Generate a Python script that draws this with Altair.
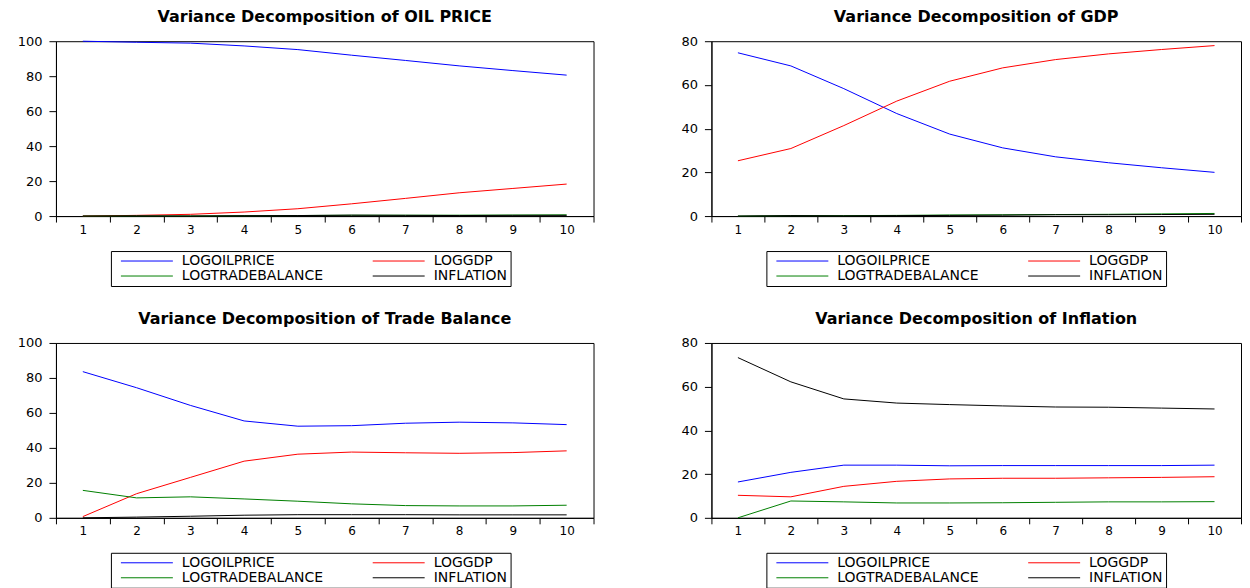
import altair as alt
import pandas as pd

# ---------------- data ----------------
horizons = [1, 2, 3, 4, 5, 6, 7, 8, 9, 10]
series_names = ["LOGOILPRICE", "LOGGDP", "LOGTRADEBALANCE", "INFLATION"]
series_colors = ["#0000FF", "#FF0000", "#008000", "#000000"]

# Variance Decomposition of OIL PRICE
oil_logoilprice = [100.0, 99.4, 98.9, 97.3, 95.2, 92.0, 89.0, 85.9, 83.2, 80.6]
oil_loggdp = [0.0, 0.4, 1.0, 2.3, 4.2, 7.0, 10.1, 13.3, 15.8, 18.3]
oil_logtradebalance = [0.0, 0.1, 0.1, 0.2, 0.3, 0.5, 0.5, 0.5, 0.6, 0.7]
oil_inflation = [0.0, 0.1, 0.0, 0.2, 0.3, 0.5, 0.4, 0.3, 0.4, 0.4]

# Variance Decomposition of GDP
gdp_logoilprice = [74.7, 68.7, 58.3, 46.9, 37.5, 31.2, 27.1, 24.4, 22.1, 20.0]
gdp_loggdp = [25.3, 30.9, 41.4, 52.6, 61.7, 67.8, 71.6, 74.2, 76.2, 78.0]
gdp_logtradebalance = [0.0, 0.2, 0.2, 0.3, 0.5, 0.6, 0.7, 0.8, 1.0, 1.2]
gdp_inflation = [0.0, 0.2, 0.1, 0.2, 0.3, 0.4, 0.6, 0.6, 0.7, 0.8]

# Variance Decomposition of Trade Balance
tb_logoilprice = [83.6, 74.4, 64.3, 55.4, 52.4, 52.7, 54.1, 54.7, 54.3, 53.3]
tb_loggdp = [0.7, 13.8, 23.1, 32.4, 36.4, 37.6, 37.2, 36.9, 37.3, 38.3]
tb_logtradebalance = [15.7, 11.4, 12.0, 10.8, 9.5, 8.0, 7.0, 6.8, 6.8, 7.2]
tb_inflation = [0.0, 0.4, 0.9, 1.5, 1.8, 1.8, 1.8, 1.7, 1.7, 1.7]

# Variance Decomposition of Inflation
inf_logoilprice = [16.4, 20.8, 24.1, 24.1, 23.8, 23.9, 23.9, 23.9, 23.9, 24.1]
inf_loggdp = [10.3, 9.6, 14.4, 16.7, 17.8, 18.1, 18.1, 18.3, 18.5, 18.8]
inf_logtradebalance = [0.0, 7.7, 7.3, 6.8, 6.8, 6.9, 7.1, 7.3, 7.3, 7.4]
inf_inflation = [73.3, 62.2, 54.4, 52.5, 51.8, 51.2, 50.7, 50.6, 50.2, 49.8]

FONT = "DejaVu Sans"


def make_df(a, b, c, d):
    rows = []
    for name, vals in zip(series_names, [a, b, c, d]):
        for h, v in zip(horizons, vals):
            rows.append({"h": h, "series": name, "value": v})
    return pd.DataFrame(rows)


def panel(title, df, ymax, width):
    return (
        alt.Chart(
            df,
            title=alt.TitleParams(
                title, font=FONT, fontSize=16, fontWeight="bold",
                color="black", anchor="middle", offset=10,
            ),
        )
        .mark_line(strokeWidth=1)
        .encode(
            x=alt.X(
                "h:O",
                bandPosition=0.5,
                scale=alt.Scale(type="band", paddingInner=0, paddingOuter=0),
                axis=alt.Axis(
                    title=None, labelAngle=0, tickBand="extent", tickSize=6,
                    labelPadding=2, labelFont=FONT, labelFontSize=12,
                    labelColor="black", domainColor="black", tickColor="black",
                    grid=False,
                ),
            ),
            y=alt.Y(
                "value:Q",
                scale=alt.Scale(domain=[0, ymax], nice=False, zero=True),
                axis=alt.Axis(
                    title=None, values=list(range(0, ymax + 1, 20)), tickSize=7,
                    labelPadding=7, labelFont=FONT, labelFontSize=13,
                    labelColor="black", domainColor="black", tickColor="black",
                    grid=False,
                ),
            ),
            color=alt.Color(
                "series:N",
                sort=series_names,
                scale=alt.Scale(domain=series_names, range=series_colors),
                legend=alt.Legend(
                    title=None, orient="none", legendX=55, legendY=210,
                    direction="horizontal", columns=2,
                    symbolType="M0,0H13", symbolSize=64,
                    symbolStrokeWidth=1, labelOffset=54, labelFont=FONT,
                    labelFontSize=14, labelColor="black", strokeColor="black",
                    padding=3, columnPadding=42, rowPadding=1,
                ),
            ),
            order=alt.Order("h:O"),
        )
        .properties(width=width, height=175)
    )


p_oil = panel("Variance Decomposition of OIL PRICE",
              make_df(oil_logoilprice, oil_loggdp, oil_logtradebalance, oil_inflation), 100, 538)
p_gdp = panel("Variance Decomposition of GDP",
              make_df(gdp_logoilprice, gdp_loggdp, gdp_logtradebalance, gdp_inflation), 80, 530)
p_tb = panel("Variance Decomposition of Trade Balance",
             make_df(tb_logoilprice, tb_loggdp, tb_logtradebalance, tb_inflation), 100, 538)
p_inf = panel("Variance Decomposition of Inflation",
              make_df(inf_logoilprice, inf_loggdp, inf_logtradebalance, inf_inflation), 80, 530)

chart = (
    alt.concat(
        p_oil, p_gdp, p_tb, p_inf,
        columns=2,
        spacing={"row": 127, "column": 118},
        bounds="flush",
    )
    .resolve_scale(color="independent", x="independent", y="independent")
    .resolve_legend(color="independent")
    .properties(padding={"left": 8, "top": 0, "right": 0, "bottom": 0})
    .configure_view(stroke="black", strokeWidth=1)
)

chart.save("out.html", embed_options={"renderer": "svg", "actions": False})
